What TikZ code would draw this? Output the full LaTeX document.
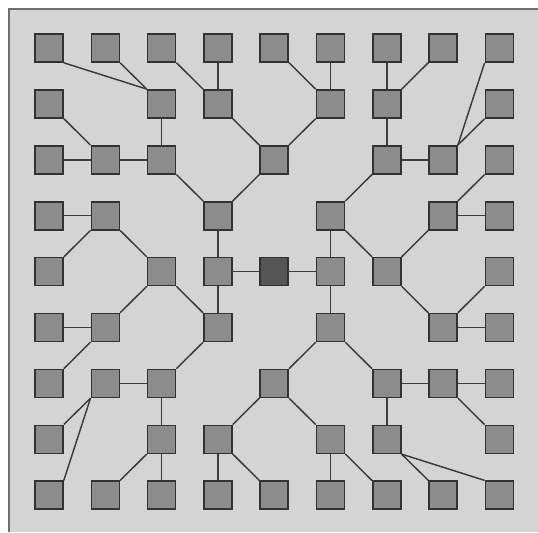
\documentclass[tikz,border=0pt]{standalone}
\definecolor{bgc}{RGB}{212,212,212}
\definecolor{framec}{RGB}{110,110,110}
\definecolor{boxfill}{RGB}{140,140,140}
\definecolor{boxline}{RGB}{50,50,50}
\definecolor{centerfill}{RGB}{85,85,85}
\definecolor{linec}{RGB}{60,60,60}
\begin{document}
\begin{tikzpicture}[x=0.75pt,y=-0.75pt,
  box/.style={draw=boxline, fill=boxfill, line width=1.2pt, minimum size=21pt, inner sep=0pt},
  centerbox/.style={box, fill=centerfill},
  conn/.style={draw=linec, line width=1.1pt}]
\useasboundingbox (0,0) rectangle (538,532);
\fill[white] (0,0) rectangle (538,532);
\fill[bgc] (9,9) rectangle (538,532);
\draw[framec, line width=1pt] (9,532) -- (9,9) -- (538,9);
% nodes
\foreach \r/\cl in {1/{1,2,3,4,5,6,7,8,9},2/{1,3,4,6,7,9},3/{1,2,3,5,7,8,9},4/{1,2,4,6,8,9},
  5/{1,3,4,6,7,9},6/{1,2,4,6,8,9},7/{1,2,3,5,7,8,9},8/{1,3,4,6,7,9},9/{1,2,3,4,5,6,7,8,9}}
  \foreach \c in \cl
    \node[box] (n\c-\r) at ({49+56.3*(\c-1)},{48+55.9*(\r-1)}) {};
\node[centerbox] (n5-5) at ({49+56.3*4},{48+55.9*4}) {};
% straight connectors
\foreach \a/\b in {5-5/4-5, 5-5/6-5, 4-5/4-4, 4-5/4-6, 6-5/6-4, 6-5/6-6,
  4-4/3-3, 4-4/5-3, 3-3/3-2, 3-3/2-3, 2-3/1-3, 2-3/1-2,
  5-3/4-2, 5-3/6-2, 4-2/3-1, 4-2/4-1, 6-2/5-1, 6-2/6-1,
  6-4/7-3, 6-4/7-5, 7-3/7-2, 7-3/8-3, 7-2/7-1, 7-2/8-1,
  7-5/8-4, 7-5/8-6, 8-4/9-3, 8-4/9-4, 8-6/9-5, 8-6/9-6,
  6-6/5-7, 6-6/7-7, 5-7/4-8, 5-7/6-8, 4-8/4-9, 4-8/5-9, 6-8/6-9, 6-8/7-9,
  7-7/8-7, 7-7/7-8, 8-7/9-7, 8-7/9-8,
  4-6/3-5, 4-6/3-7, 3-5/2-4, 3-5/2-6, 2-4/1-4, 2-4/1-5, 2-6/1-6, 2-6/1-7,
  3-7/2-7, 3-7/3-8, 3-8/2-9, 3-8/3-9}
  \draw[conn] (n\a) -- (n\b);
% corner-to-corner connectors
\draw[conn] (n1-1.south east) -- (n3-2.north west);
\draw[conn] (n2-1.south east) -- (n3-2.north west);
\draw[conn] (n9-1.south west) -- (n8-3.north east);
\draw[conn] (n9-2.south west) -- (n8-3.north east);
\draw[conn] (n2-7.south west) -- (n1-8.north east);
\draw[conn] (n2-7.south west) -- (n1-9.north east);
\draw[conn] (n7-8.south east) -- (n8-9.north west);
\draw[conn] (n7-8.south east) -- (n9-9.north west);
\end{tikzpicture}
\end{document}
